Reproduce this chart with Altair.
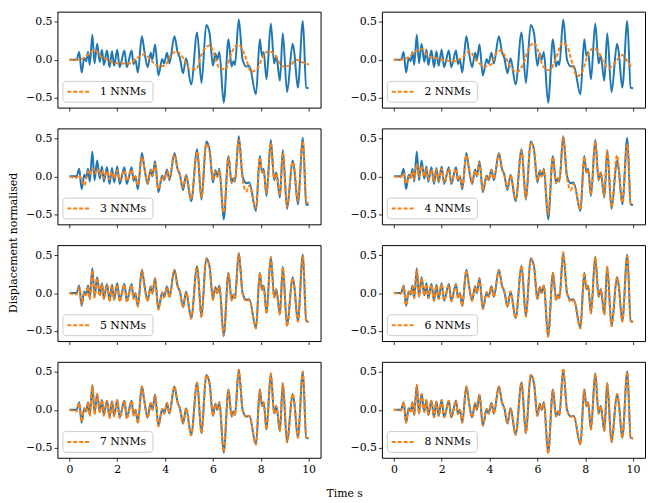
import altair as alt
import pandas as pd

# ---------------- data ----------------
x_ticks = [0, 2, 4, 6, 8, 10]
y_ticks = [-0.5, 0.0, 0.5]
labels = ["1 NNMs", "2 NNMs", "3 NNMs", "4 NNMs", "5 NNMs", "6 NNMs", "7 NNMs", "8 NNMs"]

# true (normalised) displacement, blue
blue_t = [0.00, 0.30, 0.41, 0.51, 0.62, 0.70, 0.78, 0.85, 0.96, 1.05,
          1.16, 1.27, 1.36, 1.44, 1.57, 1.68, 1.78, 1.87, 2.00, 2.10,
          2.30, 2.40, 2.60, 2.68, 2.76, 2.86, 3.03, 3.13, 3.27, 3.40,
          3.47, 3.58, 3.72, 3.88, 3.96, 4.08, 4.18, 4.39, 4.52, 4.62,
          4.75, 4.88, 5.09, 5.34, 5.52, 5.72, 5.86, 6.00, 6.10, 6.18,
          6.27, 6.45, 6.65, 6.78, 6.86, 6.92, 7.08, 7.24, 7.40, 7.52,
          7.80, 7.96, 8.05, 8.12, 8.24, 8.42, 8.56, 8.65, 8.80, 8.92,
          9.10, 9.33, 9.40, 9.55, 9.76, 9.90, 10.00]
blue_v = [0.00, 0.00, 0.10, -0.17, 0.02, -0.02, 0.10, -0.07, 0.33, -0.05,
          0.21, -0.03, 0.13, -0.07, 0.12, -0.10, 0.11, -0.08, 0.13, -0.10,
          0.12, -0.10, 0.12, -0.06, 0.00, -0.17, 0.31, 0.12, -0.10, 0.09,
          0.00, 0.20, -0.21, 0.01, -0.05, 0.09, -0.05, 0.31, 0.10, 0.02,
          -0.18, 0.02, -0.33, 0.36, -0.31, 0.46, 0.35, -0.08, 0.08, 0.00,
          0.10, -0.57, 0.27, -0.09, -0.02, -0.07, 0.53, 0.00, -0.09, -0.08,
          -0.46, 0.27, 0.05, 0.10, -0.26, 0.48, -0.05, 0.05, -0.28, 0.35,
          -0.43, 0.21, 0.10, -0.37, 0.51, -0.37, -0.38]

# reconstructions, orange
nnm1_t = [0.00, 0.45, 0.78, 1.05, 1.32, 1.59, 1.86, 2.13, 2.54, 2.81,
          3.14, 3.48, 3.75, 4.02, 4.22, 4.49, 4.76, 5.03, 5.30, 5.51,
          5.88, 6.05, 6.25, 6.52, 6.79, 7.06, 7.33, 7.60, 7.87, 8.14,
          8.34, 8.61, 8.88, 9.22, 9.49, 9.69, 9.96, 10.00]
nnm1_v = [0.00, 0.00, 0.07, 0.13, 0.04, 0.00, -0.04, -0.05, -0.05, 0.02,
          0.07, -0.03, -0.09, -0.07, 0.05, 0.11, 0.02, -0.12, -0.13, 0.06,
          0.19, 0.07, -0.10, -0.13, 0.10, 0.20, 0.06, -0.16, -0.11, 0.07,
          0.11, 0.06, -0.09, -0.08, 0.00, -0.03, -0.06, -0.07]

nnm2_t = [0.00, 0.30, 0.55, 0.90, 1.18, 1.45, 1.78, 2.12, 2.53, 2.86,
          3.16, 3.47, 3.81, 4.08, 4.28, 4.46, 4.69, 4.89, 5.16, 5.43,
          5.64, 5.86, 6.04, 6.24, 6.51, 6.78, 7.03, 7.26, 7.43, 7.66,
          7.86, 8.11, 8.34, 8.54, 8.81, 9.01, 9.24, 9.55, 9.76, 9.96,
          10.00]
nnm2_v = [0.00, 0.00, 0.02, 0.11, 0.14, 0.04, 0.02, -0.01, -0.02, 0.03,
          0.11, -0.02, -0.09, -0.06, 0.09, 0.12, 0.02, -0.11, -0.16, -0.04,
          0.15, 0.22, 0.11, -0.09, -0.14, 0.02, 0.22, 0.17, -0.02, -0.22,
          -0.17, 0.06, 0.15, 0.11, -0.06, -0.11, -0.04, 0.06, -0.02, -0.09,
          -0.09]

# panels 3-8 sampled at the same instants as blue_t
nnm3_v = [0.00, -0.02, 0.02, -0.06, -0.12, -0.04, 0.06, 0.02, 0.11, 0.04,
          0.10, 0.02, 0.08, -0.03, 0.07, -0.04, 0.06, -0.03, 0.08, -0.05,
          0.08, -0.06, 0.09, -0.04, 0.00, -0.12, 0.26, 0.12, -0.08, 0.08,
          0.01, 0.17, -0.17, 0.00, -0.04, 0.07, -0.03, 0.29, 0.10, 0.02,
          -0.15, 0.01, -0.30, 0.33, -0.28, 0.43, 0.33, -0.05, 0.06, -0.01,
          0.08, -0.48, 0.25, -0.08, -0.03, -0.05, 0.48, -0.03, -0.20, -0.12,
          -0.42, 0.25, 0.06, 0.08, -0.22, 0.44, -0.03, 0.04, -0.25, 0.32,
          -0.40, 0.19, 0.12, -0.33, 0.47, -0.33, -0.36]
nnm4_v = [0.00, -0.01, 0.04, -0.10, 0.00, -0.03, 0.07, -0.04, 0.16, 0.00,
          0.14, 0.00, 0.10, -0.05, 0.09, -0.07, 0.09, -0.06, 0.10, -0.08,
          0.10, -0.08, 0.10, -0.05, 0.00, -0.14, 0.28, 0.12, -0.09, 0.08,
          0.00, 0.18, -0.19, 0.01, -0.05, 0.08, -0.04, 0.30, 0.10, 0.02,
          -0.16, 0.02, -0.31, 0.34, -0.29, 0.45, 0.34, -0.06, 0.07, 0.00,
          0.09, -0.50, 0.26, -0.09, -0.03, -0.06, 0.52, -0.02, -0.18, -0.10,
          -0.44, 0.26, 0.06, 0.09, -0.24, 0.46, -0.04, 0.05, -0.26, 0.34,
          -0.41, 0.28, 0.11, -0.35, 0.42, -0.36, -0.38]
nnm5_v = [0.00, -0.02, 0.08, -0.15, 0.01, -0.03, 0.09, -0.08, 0.30, -0.06,
          0.20, -0.04, 0.12, -0.08, 0.11, -0.11, 0.10, -0.09, 0.12, -0.11,
          0.11, -0.12, 0.11, -0.08, -0.01, -0.18, 0.30, 0.11, -0.11, 0.08,
          -0.01, 0.19, -0.22, 0.00, -0.06, 0.08, -0.06, 0.30, 0.09, 0.01,
          -0.19, 0.01, -0.34, 0.35, -0.32, 0.45, 0.34, -0.09, 0.07, -0.01,
          0.09, -0.55, 0.26, -0.10, -0.03, -0.08, 0.52, -0.01, -0.11, -0.09,
          -0.47, 0.26, 0.04, 0.09, -0.27, 0.47, -0.06, 0.04, -0.29, 0.34,
          -0.44, 0.20, 0.09, -0.38, 0.50, -0.38, -0.38]
nnm6_v = [0.00, -0.01, 0.09, -0.16, 0.02, -0.02, 0.09, -0.07, 0.31, -0.05,
          0.20, -0.03, 0.12, -0.07, 0.11, -0.10, 0.10, -0.08, 0.12, -0.10,
          0.11, -0.11, 0.11, -0.07, 0.00, -0.17, 0.30, 0.12, -0.10, 0.09,
          0.00, 0.19, -0.21, 0.01, -0.05, 0.09, -0.05, 0.30, 0.10, 0.02,
          -0.18, 0.02, -0.33, 0.36, -0.31, 0.45, 0.35, -0.08, 0.08, 0.00,
          0.10, -0.58, 0.27, -0.09, -0.02, -0.07, 0.54, 0.00, -0.12, -0.09,
          -0.47, 0.27, 0.05, 0.10, -0.27, 0.47, -0.05, 0.05, -0.29, 0.35,
          -0.44, 0.21, 0.10, -0.38, 0.49, -0.37, -0.39]
nnm7_v = [0.00, -0.02, 0.09, -0.16, 0.02, -0.03, 0.10, -0.08, 0.32, -0.06,
          0.21, -0.04, 0.13, -0.08, 0.12, -0.11, 0.11, -0.09, 0.13, -0.11,
          0.12, -0.12, 0.12, -0.08, 0.00, -0.18, 0.31, 0.12, -0.11, 0.09,
          0.00, 0.20, -0.22, 0.01, -0.05, 0.09, -0.05, 0.31, 0.10, 0.02,
          -0.18, 0.02, -0.34, 0.36, -0.31, 0.46, 0.35, -0.08, 0.08, 0.00,
          0.10, -0.56, 0.27, -0.09, -0.02, -0.07, 0.53, 0.00, -0.10, -0.08,
          -0.46, 0.27, 0.05, 0.10, -0.26, 0.48, -0.05, 0.05, -0.28, 0.35,
          -0.43, 0.21, 0.10, -0.37, 0.50, -0.37, -0.38]
nnm8_v = [0.00, -0.01, 0.10, -0.17, 0.02, -0.02, 0.10, -0.07, 0.33, -0.05,
          0.21, -0.03, 0.13, -0.07, 0.12, -0.10, 0.11, -0.08, 0.13, -0.10,
          0.12, -0.10, 0.12, -0.06, 0.00, -0.17, 0.31, 0.12, -0.10, 0.09,
          0.00, 0.20, -0.21, 0.01, -0.05, 0.09, -0.05, 0.31, 0.10, 0.02,
          -0.18, 0.02, -0.33, 0.36, -0.31, 0.46, 0.35, -0.08, 0.08, 0.00,
          0.10, -0.58, 0.27, -0.09, -0.02, -0.07, 0.55, 0.00, -0.09, -0.08,
          -0.46, 0.27, 0.05, 0.10, -0.26, 0.48, -0.05, 0.05, -0.28, 0.35,
          -0.43, 0.21, 0.10, -0.37, 0.50, -0.37, -0.38]

recon = [
    (nnm1_t, nnm1_v), (nnm2_t, nnm2_v),
    (blue_t, nnm3_v), (blue_t, nnm4_v),
    (blue_t, nnm5_v), (blue_t, nnm6_v),
    (blue_t, nnm7_v), (blue_t, nnm8_v),
]

# ---------------- styling ----------------
BLUE = "#1f77b4"
ORANGE = "#ff7f0e"
FONT = "DejaVu Serif"
W, H = 266, 97
HS, VS = 28, 15
x_domain = [-0.5, 10.5]
y_domain = [-0.635, 0.635]


def panel(i, show_x_labels):
    rt, rv = recon[i]
    true_df = pd.DataFrame([{"t": a, "v": b} for a, b in zip(blue_t, blue_v)])
    rec_df = pd.DataFrame([{"t": a, "v": b} for a, b in zip(rt, rv)])
    leg_df = pd.DataFrame({"label": [labels[i]]})

    xs = alt.Scale(domain=x_domain, nice=False, zero=False)
    ys = alt.Scale(domain=y_domain, nice=False, zero=False)
    xa = alt.Axis(values=x_ticks, labels=show_x_labels, format="d", title=None)
    ya = alt.Axis(values=y_ticks, format=".1f", title=None)

    truth = alt.Chart(true_df).mark_line(
        color=BLUE, strokeWidth=2, interpolate="monotone", clip=True
    ).encode(x=alt.X("t:Q", scale=xs, axis=xa), y=alt.Y("v:Q", scale=ys, axis=ya))

    rec = alt.Chart(rec_df).mark_line(
        color=ORANGE, strokeWidth=2, strokeDash=[4, 2], interpolate="monotone", clip=True
    ).encode(x=alt.X("t:Q"), y=alt.Y("v:Q"))

    box = alt.Chart(leg_df).mark_rect(
        fill="white", fillOpacity=0.8, stroke="#cccccc", strokeWidth=1, cornerRadius=3
    ).encode(x=alt.value(5.5), x2=alt.value(96.5), y=alt.value(H - 26.5), y2=alt.value(H - 5.5))

    sample = alt.Chart(leg_df).mark_rule(
        color=ORANGE, strokeWidth=2, strokeDash=[4, 2]
    ).encode(x=alt.value(10), x2=alt.value(34), y=alt.value(H - 16))

    txt = alt.Chart(leg_df).mark_text(
        align="left", baseline="middle", font=FONT, fontSize=11, color="black"
    ).encode(x=alt.value(43), y=alt.value(H - 15.5), text="label:N")

    return alt.layer(truth, rec, box, sample, txt).properties(width=W, height=H)


rows = []
for r in range(4):
    bottom = r == 3
    rows.append(alt.hconcat(panel(2 * r, bottom), panel(2 * r + 1, bottom), spacing=HS))

inner = alt.vconcat(*rows, spacing=VS).properties(
    title=alt.TitleParams(text="Displacement normalised", orient="left", anchor="middle", offset=6)
)

chart = alt.vconcat(inner).properties(
    title=alt.TitleParams(text="Time s", orient="bottom", anchor="middle", offset=14, dx=18),
    padding=0,
    background="white",
).configure_view(
    stroke="black", strokeWidth=1
).configure_axis(
    domain=False, grid=False, tickColor="black", tickSize=3.5, tickWidth=0.8,
    labelFont=FONT, labelFontSize=11, labelColor="black", labelPadding=2
).configure_title(
    font=FONT, fontSize=11, fontWeight="normal", color="black"
)

chart.save("out.html", embed_options={"renderer": "svg", "actions": False})
